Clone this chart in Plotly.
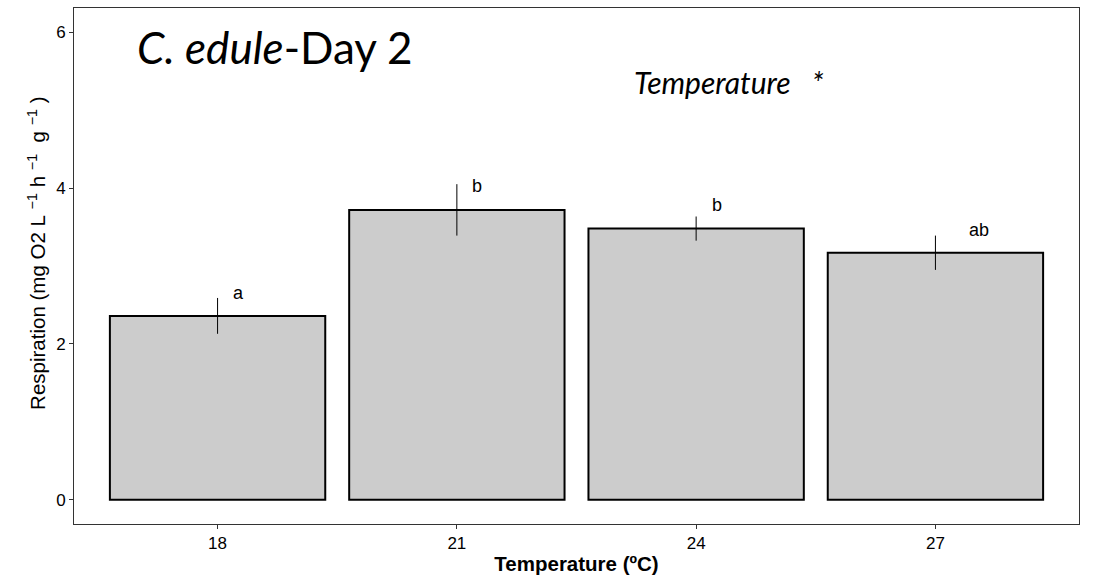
import plotly.graph_objects as go

temperatures = ["18", "21", "24", "27"]
respiration = [2.36, 3.72, 3.48, 3.17]
resp_err = [0.23, 0.33, 0.155, 0.22]
letters = ["a", "b", "b", "ab"]
letter_y = [2.65, 4.03, 3.78, 3.46]

xpos = list(range(len(temperatures)))
letter_dx = [0.088, 0.085, 0.088, 0.18]

fig = go.Figure()
fig.add_trace(go.Bar(
    x=xpos, y=respiration, width=0.9,
    marker=dict(color="#CCCCCC", line=dict(color="black", width=2)),
    error_y=dict(type="data", array=resp_err, visible=True, width=0,
                 thickness=1, color="black"),
    showlegend=False,
))

for i, (lab, ly) in enumerate(zip(letters, letter_y)):
    fig.add_annotation(x=xpos[i] + letter_dx[i], y=ly, text=lab, showarrow=False,
                       xref="x", yref="y", xanchor="center", yanchor="middle",
                       font=dict(family="Liberation Sans, Arial", size=18, color="black"))

fig.add_annotation(x=0.061, y=0.924, xref="paper", yref="paper", xanchor="left",
                   yanchor="middle", showarrow=False,
                   text="<i>C. edule</i>-Day 2",
                   font=dict(family="Lato", size=44, color="black"))
fig.add_annotation(x=0.555, y=0.857, xref="paper", yref="paper", xanchor="left",
                   yanchor="middle", showarrow=False,
                   text="<i>Temperature\u00a0\u00a0\u00a0*</i>",
                   font=dict(family="Lato", size=30, color="black"))

# y-axis title as a rotated annotation
fig.add_annotation(x=-0.037, y=0.525, xref="paper", yref="paper",
                   xanchor="center", yanchor="middle", showarrow=False, textangle=-90,
                   text="Respiration (mg O2 L\u00a0<sup>−1</sup>\u00a0h\u00a0<sup>−1</sup>\u00a0\u00a0g\u00a0<sup>−1</sup>\u00a0)",
                   font=dict(family="Liberation Sans, Arial", size=20.5, color="black"))

fig.update_layout(
    width=1094, height=581,
    margin=dict(l=74, r=15, t=8, b=57),
    plot_bgcolor="white", paper_bgcolor="white",
    font=dict(family="Liberation Sans, Arial", color="black"),
    bargap=0.1,
)
fig.update_xaxes(
    range=[-0.6, 3.6], tickvals=xpos, ticktext=temperatures,
    showgrid=False, zeroline=False,
    showline=True, linecolor="#333333", linewidth=1, mirror=True,
    ticks="outside", ticklen=4, tickcolor="#333333",
    tickfont=dict(size=17, color="black"),
    title=dict(text="<b>Temperature (ºC)</b>", font=dict(size=20.5, color="black"), standoff=4),
)
fig.update_yaxes(
    range=[-0.31, 6.31], tickvals=[0, 2, 4, 6],
    showgrid=False, zeroline=False,
    showline=True, linecolor="#333333", linewidth=1, mirror=True,
    ticks="outside", ticklen=4, tickcolor="#333333",
    tickfont=dict(size=17, color="black"),
)

fig.write_html("out.html")
